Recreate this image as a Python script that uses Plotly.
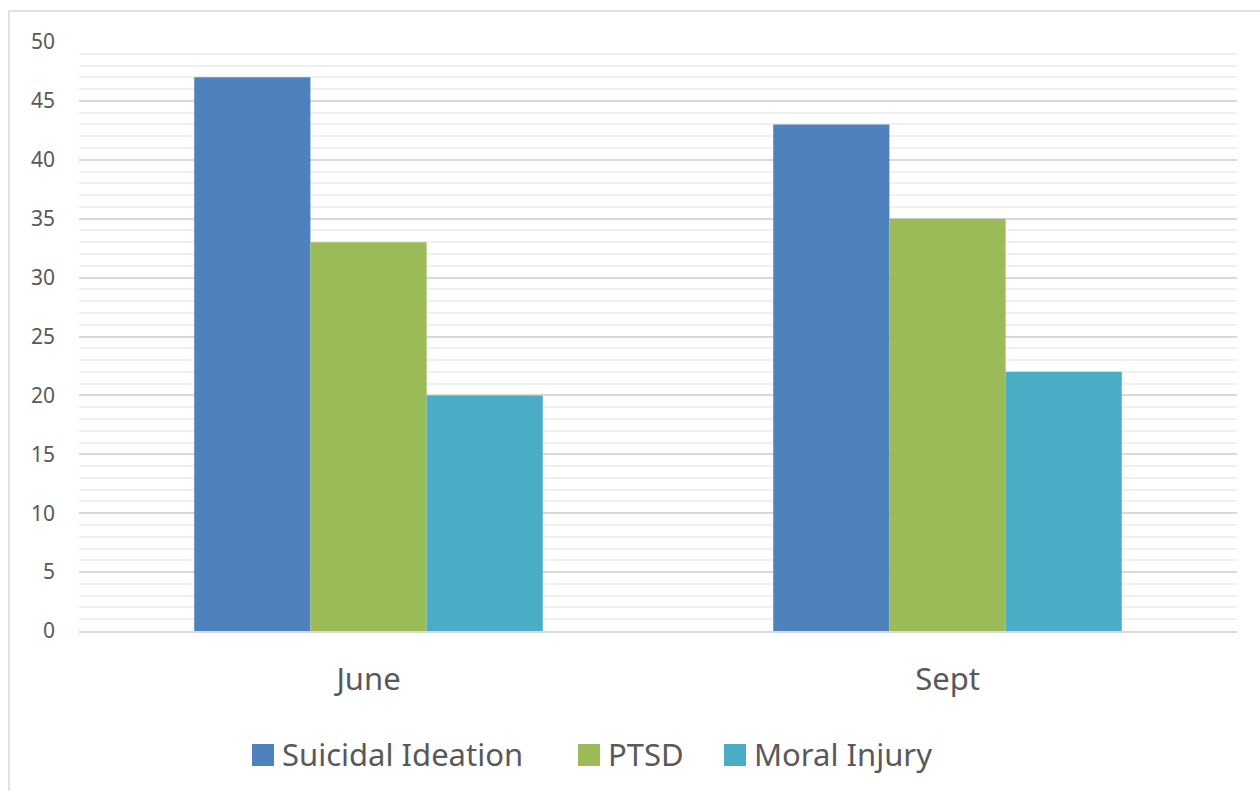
import plotly.graph_objects as go

# Survey results by month
months = ["June", "Sept"]
suicidal_ideation = [47, 43]
ptsd = [33, 35]
moral_injury = [20, 22]

series = [
    ("Suicidal Ideation", suicidal_ideation, "#4F81BD"),
    ("PTSD", ptsd, "#9BBB59"),
    ("Moral Injury", moral_injury, "#4BACC6"),
]

font_family = "Noto Sans, Open Sans, sans-serif"
text_color = "#595959"

# Plot-area geometry in pixels (used to place the frame and legend)
W, H = 1260, 791
L, R, T, B = 79, 23, 42, 160
PW, PH = W - L - R, H - T - B


def px_x(x):
    return (x - L) / PW


def px_y(y):
    return (H - B - y) / PH


fig = go.Figure()
for name, values, color in series:
    fig.add_trace(go.Bar(
        x=months, y=values, name=name,
        marker=dict(color=color, line=dict(width=0)),
        showlegend=False,
    ))

# Outer chart frame
fig.add_shape(
    type="rect", xref="paper", yref="paper",
    x0=px_x(9), x1=px_x(1300), y0=px_y(830), y1=px_y(11),
    line=dict(color="#d9d9d9", width=1.5), layer="below",
)

# Legend: colour swatch followed by the series name
legend_x = [252, 578, 724]
legend_y = 755
sw = 22
for (name, _, color), lx in zip(series, legend_x):
    fig.add_shape(
        type="rect", xref="paper", yref="paper",
        x0=px_x(lx), x1=px_x(lx + sw),
        y0=px_y(legend_y + sw / 2), y1=px_y(legend_y - sw / 2),
        fillcolor=color, line=dict(width=0),
    )
    fig.add_annotation(
        xref="paper", yref="paper", x=px_x(lx + sw + 6), y=px_y(legend_y - 1),
        text=name, showarrow=False, xanchor="left", yanchor="middle",
        font=dict(size=31, color=text_color, family=font_family),
    )

fig.update_layout(
    width=W, height=H,
    margin=dict(l=L, r=R, t=T, b=B),
    paper_bgcolor="white", plot_bgcolor="white",
    barmode="group", bargap=0.398, bargroupgap=0,
    font=dict(family=font_family, color=text_color),
    showlegend=False,
)

fig.update_xaxes(
    showgrid=False, showline=True, linecolor="#d9d9d9", linewidth=1.5,
    ticks="", tickfont=dict(size=31, color=text_color),
    ticklabelstandoff=20,
)
fig.update_yaxes(
    range=[0, 50], dtick=5, tick0=0,
    showgrid=True, gridcolor="#d9d9d9", gridwidth=1.5,
    zeroline=False, showline=False, ticks="",
    tickfont=dict(size=21, color=text_color),
    ticklabelstandoff=23,
    minor=dict(dtick=1, tick0=0, showgrid=True, gridcolor="#f0f0f0", gridwidth=1.5),
)

fig.write_html("out.html")
